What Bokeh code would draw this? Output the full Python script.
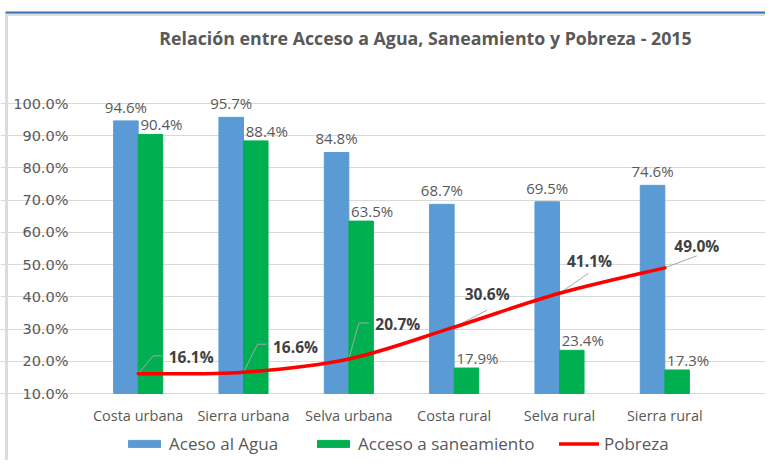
from bokeh.plotting import figure
from bokeh.models import (ColumnDataSource, Range1d, FixedTicker, LabelSet, Label,
                          Legend, LegendItem, LinearAxis, Grid)
from bokeh.transform import dodge
from bokeh.core.properties import value
from bokeh.embed import file_html
from bokeh.resources import INLINE

# ---------------- data ----------------
categories = ["Costa urbana", "Sierra urbana", "Selva urbana",
              "Costa rural", "Selva rural", "Sierra rural"]
acceso_agua = [94.6, 95.7, 84.8, 68.7, 69.5, 74.6]
acceso_saneamiento = [90.4, 88.4, 63.5, 17.9, 23.4, 17.3]
pobreza = [16.1, 16.6, 20.7, 30.6, 41.1, 49.0]
y_ticks = [10, 20, 30, 40, 50, 60, 70, 80, 90, 100]
series_names = ["Aceso al Agua", "Acceso a saneamiento", "Pobreza"]
title_text = "Relación entre Acceso a Agua, Saneamiento y Pobreza - 2015"

# ---------------- layout / style ----------------
FONT = "Open Sans"
TICK_FONT = "DejaVu Sans"
BLUE = "#5b9bd5"
GREEN = "#00b050"
RED = "#ff0000"
GRAY = "#595959"
W, H = 765, 460                 # canvas
PLOT_L, PLOT_R = 85, 717        # pixel extent of the category area
PLOT_T, PLOT_B = 103, 393       # pixel extent of 100% .. 10%
Y0, Y1 = 10, 100
N = len(categories)
PX_X = (PLOT_R - PLOT_L) / N            # pixels per category
PX_Y = (PLOT_B - PLOT_T) / (Y1 - Y0)    # pixels per percentage point
BAR_W = 0.233
LEGEND_X = [124, 313, 559]              # left edge of each legend entry (px)

def xd(px):  # canvas pixel -> data x
    return (px - PLOT_L) / PX_X

def yd(py):  # canvas pixel -> data y
    return Y0 + (PLOT_B - py) / PX_Y

# pixel offsets of the poverty labels (right, up) and their leader lines
pob_label_dx = [53, 52, 49, 33, 30, 32]
pob_label_dy = [17, 25, 35, 33, 32, 22]
pob_leaders = [[(0, 0), (15, 18), (24, 18)],
               [(0, 0), (14, 28), (23, 28)],
               [(0, 0), (10, 36), (20, 36)],
               [(0, 0), (33, 17)],
               [(0, 0), (29, 20)],
               [(0, 0), (32, 12)]]

pos = [i + 0.5 for i in range(N)]
src = ColumnDataSource(dict(
    x=pos,
    cat=categories,
    agua=acceso_agua,
    san=acceso_saneamiento,
    pob=pobreza,
    agua_txt=[f"{v:.1f}%" for v in acceso_agua],
    san_txt=[f"{v:.1f}%" for v in acceso_saneamiento],
    pob_txt=[f"{v:.1f}%" for v in pobreza],
    pdx=pob_label_dx,
    pdy=pob_label_dy,
))

p = figure(width=W, height=H,
           x_range=Range1d(xd(0), xd(W)), y_range=Range1d(yd(H), yd(0)),
           x_axis_location=None, y_axis_location=None,
           min_border=0, output_backend="svg", toolbar_location=None,
           background_fill_color="white", border_fill_color="white")
p.outline_line_color = None
p.title.visible = False
# drop the default grids; add one limited to the category area
p.center = [r for r in p.center if not isinstance(r, Grid)]
p.add_layout(Grid(dimension=1, ticker=FixedTicker(ticks=y_ticks), bounds=(0, N),
                  grid_line_color="#d9d9d9", grid_line_width=1))

# axes drawn at fixed locations inside the canvas
yaxis = LinearAxis(ticker=FixedTicker(ticks=y_ticks), fixed_location=0,
                   major_label_overrides={t: f"{t:.1f}%" for t in y_ticks},
                   major_label_standoff=17)
xaxis = LinearAxis(ticker=FixedTicker(ticks=pos), fixed_location=Y0,
                   major_label_overrides={x: c for x, c in zip(pos, categories)},
                   major_label_standoff=12)
for ax in (xaxis, yaxis):
    ax.axis_line_color = None
    ax.major_tick_line_color = None
    ax.minor_tick_line_color = None
    ax.major_tick_out = 0
    ax.major_tick_in = 0
    ax.major_label_text_color = GRAY
    ax.major_label_text_font_size = "14.5px"
xaxis.major_label_text_font = FONT
yaxis.major_label_text_font = TICK_FONT
p.add_layout(yaxis, "left")
p.add_layout(xaxis, "below")

# frame decoration (top blue rule, grey left edge)
p.segment(x0=[xd(5)], y0=[yd(14)], x1=[xd(W)], y1=[yd(14)], line_color="#dcdcdc", line_width=3)
p.segment(x0=[xd(6)], y0=[yd(13)], x1=[xd(6)], y1=[yd(H)], line_color="#dcdcdc", line_width=3)
p.segment(x0=[xd(5)], y0=[yd(12)], x1=[xd(W)], y1=[yd(12)], line_color="#3a6fb5", line_width=2)

# bars
r_agua = p.vbar(x=dodge("x", -BAR_W / 2), top="agua", bottom=Y0,
                width=BAR_W, source=src, fill_color=BLUE, line_color=BLUE)
r_san = p.vbar(x=dodge("x", BAR_W / 2), top="san", bottom=Y0,
               width=BAR_W, source=src, fill_color=GREEN, line_color=GREEN)

# leader lines for poverty labels (pixel offsets converted to data units)
lx, ly = [], []
for x, pts, v in zip(pos, pob_leaders, pobreza):
    lx.append([x + dx / PX_X for dx, dy in pts])
    ly.append([v + dy / PX_Y for dx, dy in pts])
p.multi_line(xs=lx, ys=ly, line_color="#a6a6a6", line_width=1)

# poverty line, smoothed like the spreadsheet (cubic Bezier between the data points)
def ctrl(i, j, k, vals, sign):
    return vals[j] + sign * (vals[k] - vals[i]) / 6.0

bx0, by0, bx1, by1, cx0, cy0, cx1, cy1 = [], [], [], [], [], [], [], []
for i in range(N - 1):
    a, b = max(i - 1, 0), min(i + 2, N - 1)
    bx0.append(pos[i]); by0.append(pobreza[i])
    bx1.append(pos[i + 1]); by1.append(pobreza[i + 1])
    cx0.append(ctrl(a, i, i + 1, pos, 1)); cy0.append(ctrl(a, i, i + 1, pobreza, 1))
    cx1.append(ctrl(i, i + 1, b, pos, -1)); cy1.append(ctrl(i, i + 1, b, pobreza, -1))
r_pob = p.bezier(x0=bx0, y0=by0, x1=bx1, y1=by1, cx0=cx0, cy0=cy0, cx1=cx1, cy1=cy1,
                 line_color=RED, line_width=3.5, line_cap="round")

# data labels
p.add_layout(LabelSet(x=dodge("x", -BAR_W / 2), y="agua", text="agua_txt",
                      source=src, text_align="center", text_baseline="alphabetic",
                      y_offset=8, text_font=value(FONT), text_font_size="15px",
                      text_color=GRAY))
p.add_layout(LabelSet(x=dodge("x", BAR_W / 2), y="san", text="san_txt",
                      source=src, text_align="center", text_baseline="alphabetic",
                      x_offset=11, y_offset=4, text_font=value(FONT), text_font_size="15px",
                      text_color=GRAY))
p.add_layout(LabelSet(x="x", y="pob", text="pob_txt", source=src,
                      x_offset="pdx", y_offset="pdy",
                      text_align="center", text_baseline="middle",
                      text_font=value(FONT), text_font_size="15.5px",
                      text_font_style="bold", text_color="#404040"))

# title
p.add_layout(Label(x=xd(425), y=yd(37), text=title_text,
                   text_align="center", text_baseline="middle",
                   text_font=FONT, text_font_size="17.8px", text_font_style="bold",
                   text_color=GRAY))

# legend: one entry per legend box, placed like the original
for name, rend, lx0 in zip(series_names, [r_agua, r_san, r_pob], LEGEND_X):
    p.add_layout(Legend(items=[LegendItem(label=name, renderers=[rend])],
                        orientation="horizontal", location=(lx0, H - 455),
                        glyph_width=40, glyph_height=9, label_standoff=5,
                        padding=0, margin=0, border_line_color=None,
                        label_text_font=FONT, label_text_font_size="17px",
                        label_text_color=GRAY, background_fill_alpha=0))

open("out.html", "w").write(file_html(p, INLINE))
